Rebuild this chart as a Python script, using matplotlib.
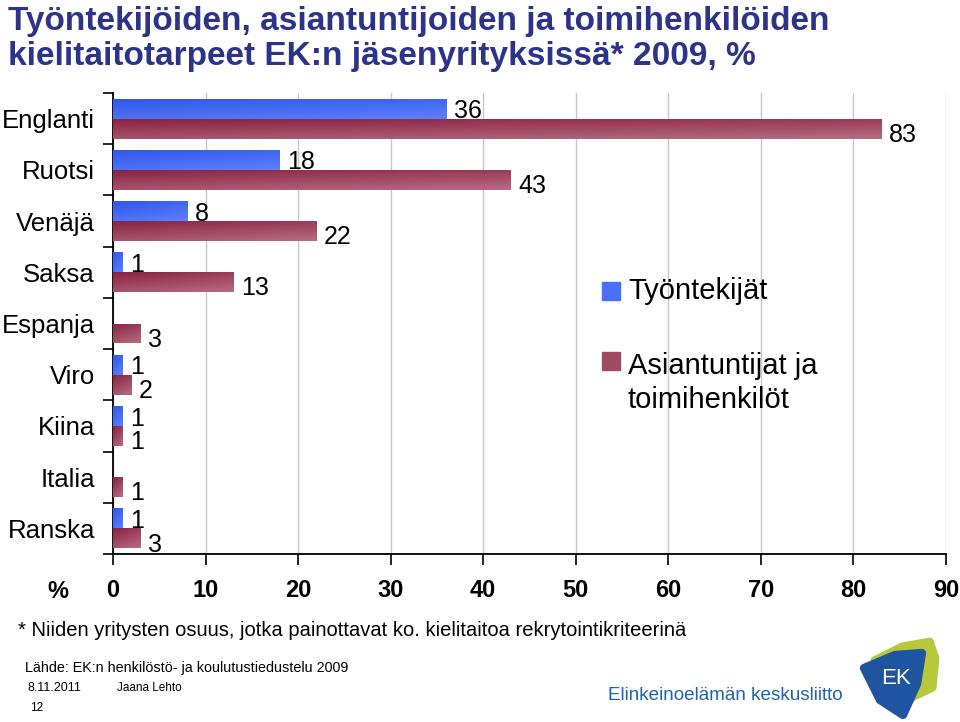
import numpy as np
import matplotlib
matplotlib.use("Agg")
from matplotlib import pyplot as plt
from matplotlib.colors import to_rgb
from matplotlib.patches import Polygon

kielet = ['Englanti', 'Ruotsi', 'Venäjä', 'Saksa', 'Espanja', 'Viro', 'Kiina', 'Italia', 'Ranska']
tyontekijat = [36, 18, 8, 1, 0, 1, 1, 0, 1]
asiantuntijat = [83, 43, 22, 13, 3, 2, 1, 1, 3]
x_ticks = [0, 10, 20, 30, 40, 50, 60, 70, 80, 90]

plt.rcParams['font.family'] = ['Liberation Sans', 'DejaVu Sans']

fig = plt.figure(figsize=(9.6, 7.22), dpi=100)
ax = fig.add_axes([113/960, 1-554/722, 833/960, (554-93)/722])

n = len(kielet)
h = 0.39


def grad_bar(ax, width, yc, dark, light):
    bar = ax.barh(yc, width, height=h, left=0, color=light, edgecolor='none', zorder=2)[0]
    if width <= 0:
        return
    gx = np.linspace(0, 1, 80)
    gy = np.linspace(0, 1, 20)
    t = 0.35*gx[None, :] + 0.65*gy[:, None]
    d, l = np.array(to_rgb(dark)), np.array(to_rgb(light))
    img = d[None, None, :]*(1-t[..., None]) + l[None, None, :]*t[..., None]
    im = ax.imshow(img, extent=(0, width, yc-h/2, yc+h/2), origin='upper',
                   aspect='auto', zorder=3, interpolation='bilinear')
    im.set_clip_path(bar)


for i, (a, b) in enumerate(zip(tyontekijat, asiantuntijat)):
    yc = n-1-i
    grad_bar(ax, a, yc+h/2, '#3058e8', '#5c80ff')
    grad_bar(ax, b, yc-h/2, '#882442', '#b86b82')
    if a > 0:
        ax.text(a+0.8, yc+h/2-0.05, str(a), fontsize=18, va='center', ha='left', zorder=4)
    ax.text(b+0.8, yc-h/2-0.12, str(b), fontsize=18, va='center', ha='left', zorder=4)

ax.set_xlim(0, 90)
ax.set_ylim(-0.5, n-0.5)
ax.set_xticks(x_ticks)
ax.set_xticklabels([str(v) for v in x_ticks], fontsize=17, fontweight='bold')
ax.set_yticks(np.arange(n))
ax.set_yticklabels(kielet[::-1], fontsize=18.5)
ax.set_yticks(np.arange(n+1)-0.5, minor=True)
ax.tick_params(axis='y', which='major', length=0, pad=13)
ax.tick_params(axis='y', which='minor', length=7, direction='out', width=1.2)
ax.tick_params(axis='x', length=8, direction='out', width=1.2, pad=10)
ax.grid(axis='x', color='#c8c8c8', lw=1, zorder=0)
ax.set_axisbelow(True)
for s in ['top', 'right']:
    ax.spines[s].set_visible(False)
for s in ['left', 'bottom']:
    ax.spines[s].set_linewidth(1.3)

fig.text(58/960, 1-592/722, '%', fontsize=17, fontweight='bold', ha='center', va='center')

# legend
fig.patches.append(plt.Rectangle((602/960, 1-300/722), 18/960, 18/722,
                                 transform=fig.transFigure, color='#4a6ff8'))
fig.patches.append(plt.Rectangle((602/960, 1-370/722), 18/960, 18/722,
                                 transform=fig.transFigure, color='#a04a62'))
fig.text(628/960, 1-291/722, 'Työntekijät', fontsize=21, va='center', ha='left')
fig.text(628/960, 1-352/722, 'Asiantuntijat ja\ntoimihenkilöt', fontsize=21,
         va='top', ha='left', linespacing=1.25)

# title
fig.text(8/960, 1-6/722, 'Työntekijöiden, asiantuntijoiden ja toimihenkilöiden\n'
         'kielitaitotarpeet EK:n jäsenyrityksissä* 2009, %', fontsize=24,
         fontweight='bold', color='#2b3488', va='top', ha='left', linespacing=1.15)

# notes
fig.text(18/960, 1-630/722, '* Niiden yritysten osuus, jotka painottavat ko. kielitaitoa rekrytointikriteerinä',
         fontsize=14.5, va='center', ha='left')
fig.text(25/960, 1-668/722, 'Lähde: EK:n henkilöstö- ja koulutustiedustelu 2009',
         fontsize=10.4, va='center', ha='left')
fig.text(28/960, 1-688/722, '8.11.2011', fontsize=9, va='center', ha='left')
fig.text(117/960, 1-688/722, 'Jaana Lehto', fontsize=8.5, va='center', ha='left')
fig.text(30/960, 1-708/722, '12', fontsize=8.5, va='center', ha='left')

# EK logo
fig.text(608/960, 1-695/722, 'Elinkeinoelämän keskusliitto', fontsize=13.6,
         color='#2062ae', va='center', ha='left')
lg = fig.add_axes([840/960, 0, 120/960, 92/722])
lg.set_xlim(840, 960)
lg.set_ylim(722, 630)
lg.axis('off')
lg.add_patch(Polygon([(874, 660), (902, 646), (930, 641), (936, 658), (933, 688), (912, 698)],
                     closed=True, fc='#b7c83a', ec='#b7c83a', lw=5, joinstyle='round'))
lg.add_patch(Polygon([(864, 668), (895, 655), (922, 653), (917, 684), (903, 715), (880, 700)],
                     closed=True, fc='#1f55a0', ec='#1f55a0', lw=6, joinstyle='round'))
lg.text(896, 678, 'EK', fontsize=16, color='white', ha='center', va='center')

fig.savefig('out.png', dpi=100)
